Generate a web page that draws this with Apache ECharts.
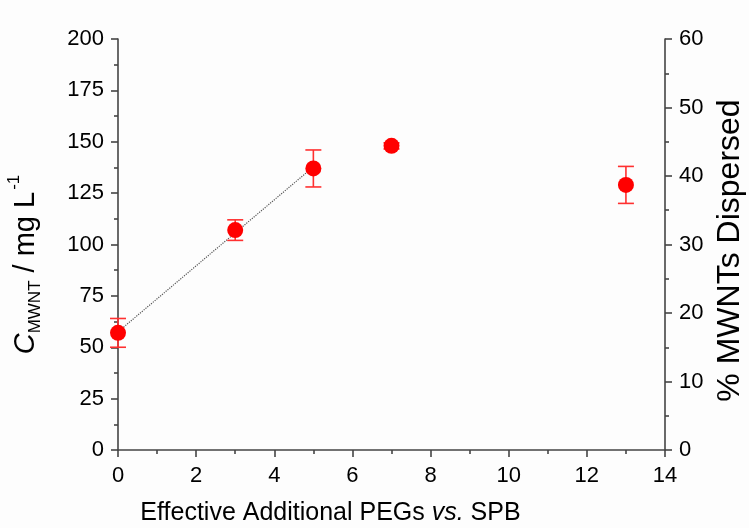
<!DOCTYPE html>
<html>
<head>
<meta charset="utf-8">
<script src="https://cdn.jsdelivr.net/npm/echarts@6/dist/echarts.min.js"></script>
<style>
html,body{margin:0;padding:0;background:#fdfdfd;}
#chart{width:749px;height:528px;}
</style>
</head>
<body>
<div id="chart"></div>
<script>
// Data
const xValues = [0, 3, 5, 7, 13];
const cValues = [57, 107, 137, 148, 129];
const cErrors = [7, 5, 9, 1.5, 9];
const fitX = [0, 5];
const fitY = [57.5, 137.8];
const xTicks = [0, 2, 4, 6, 8, 10, 12, 14];
const leftTicks = [0, 25, 50, 75, 100, 125, 150, 175, 200];
const rightTicks = [0, 10, 20, 30, 40, 50, 60];

const font = 'Liberation Sans, Arial, sans-serif';
const axisColor = '#444';
const textColor = '#000';

const chart = echarts.init(document.getElementById('chart'), null, {renderer: 'canvas'});

const pointData = xValues.map((x, i) => [x, cValues[i]]);
const errData = xValues.map((x, i) => [x, cValues[i] - cErrors[i], cValues[i] + cErrors[i]]);
const fitData = fitX.map((x, i) => [x, fitY[i]]);

function axisCommon() {
  return {
    axisLine: {show: true, lineStyle: {color: axisColor, width: 1.6}},
    axisTick: {show: true, inside: false, length: 7, lineStyle: {color: axisColor, width: 1.6}},
    minorTick: {show: true, splitNumber: 2, length: 4, lineStyle: {color: axisColor, width: 1.6}},
    splitLine: {show: false},
    minorSplitLine: {show: false}
  };
}

const option = {
  backgroundColor: '#fdfdfd',
  animation: false,
  grid: {left: 118, right: 84, top: 39, bottom: 78, containLabel: false, outerBoundsMode: 'none'},
  xAxis: Object.assign({
    type: 'value',
    min: xTicks[0],
    max: xTicks[xTicks.length - 1],
    interval: xTicks[1] - xTicks[0],
    axisLabel: {color: textColor, fontSize: 22, fontFamily: font, margin: 15},
    name: '{n|Effective Additional PEGs }{i|vs.}{n| SPB}',
    nameLocation: 'middle',
    nameGap: 51,
    nameTextStyle: {
      fontFamily: font,
      color: textColor,
      padding: [0, 122, 0, 0],
      rich: {
        n: {fontSize: 25, fontFamily: font, color: textColor},
        i: {fontSize: 25, fontFamily: font, fontStyle: 'italic', color: textColor}
      }
    }
  }, axisCommon()),
  yAxis: [
    Object.assign({
      type: 'value',
      position: 'left',
      min: leftTicks[0],
      max: leftTicks[leftTicks.length - 1],
      interval: leftTicks[1] - leftTicks[0],
      axisLabel: {color: textColor, fontSize: 22, fontFamily: font, margin: 14},
      name: '{c|C}{s|MWNT}{n| / mg L}{p|-1}',
      nameLocation: 'middle',
      nameRotate: 90,
      nameGap: 78,
      nameTextStyle: {
        fontFamily: font,
        color: textColor,
        padding: [0, 40, 0, 0],
        rich: {
          c: {fontSize: 29, fontFamily: font, fontStyle: 'italic', color: textColor, lineHeight: 34, verticalAlign: 'bottom'},
          s: {fontSize: 17, fontFamily: font, color: textColor, lineHeight: 34, verticalAlign: 'bottom', padding: [0, 0, -4, 0]},
          n: {fontSize: 29, fontFamily: font, color: textColor, lineHeight: 34, verticalAlign: 'bottom'},
          p: {fontSize: 17, fontFamily: font, color: textColor, lineHeight: 34, verticalAlign: 'top', padding: [0, 0, 0, 2]}
        }
      }
    }, axisCommon()),
    Object.assign({
      type: 'value',
      position: 'right',
      min: rightTicks[0],
      max: rightTicks[rightTicks.length - 1],
      interval: rightTicks[1] - rightTicks[0],
      axisLabel: {color: textColor, fontSize: 22, fontFamily: font, margin: 14},
      name: '% MWNTs Dispersed',
      nameLocation: 'middle',
      nameRotate: 90,
      nameGap: 48,
      nameTextStyle: {fontSize: 32, fontFamily: font, color: textColor, padding: [0, 12, 0, 0]}
    }, axisCommon())
  ],
  series: [
    {
      type: 'line',
      data: fitData,
      yAxisIndex: 0,
      symbol: 'none',
      lineStyle: {type: 'dotted', color: '#555', width: 1.2},
      z: 1
    },
    {
      type: 'custom',
      yAxisIndex: 0,
      data: errData,
      z: 2,
      renderItem: function (params, api) {
        const x = api.value(0);
        const lo = api.coord([x, api.value(1)]);
        const hi = api.coord([x, api.value(2)]);
        const hw = 8;
        const style = {stroke: '#ff3030', lineWidth: 1.6, fill: null};
        return {
          type: 'group',
          children: [
            {type: 'line', shape: {x1: lo[0], y1: lo[1], x2: hi[0], y2: hi[1]}, style: style},
            {type: 'line', shape: {x1: lo[0] - hw, y1: lo[1], x2: lo[0] + hw, y2: lo[1]}, style: style},
            {type: 'line', shape: {x1: hi[0] - hw, y1: hi[1], x2: hi[0] + hw, y2: hi[1]}, style: style}
          ]
        };
      }
    },
    {
      type: 'scatter',
      yAxisIndex: 0,
      data: pointData,
      symbol: 'circle',
      symbolSize: 16,
      itemStyle: {color: '#ff0000', opacity: 1},
      z: 3
    }
  ]
};
chart.setOption(option);
</script>
</body>
</html>
